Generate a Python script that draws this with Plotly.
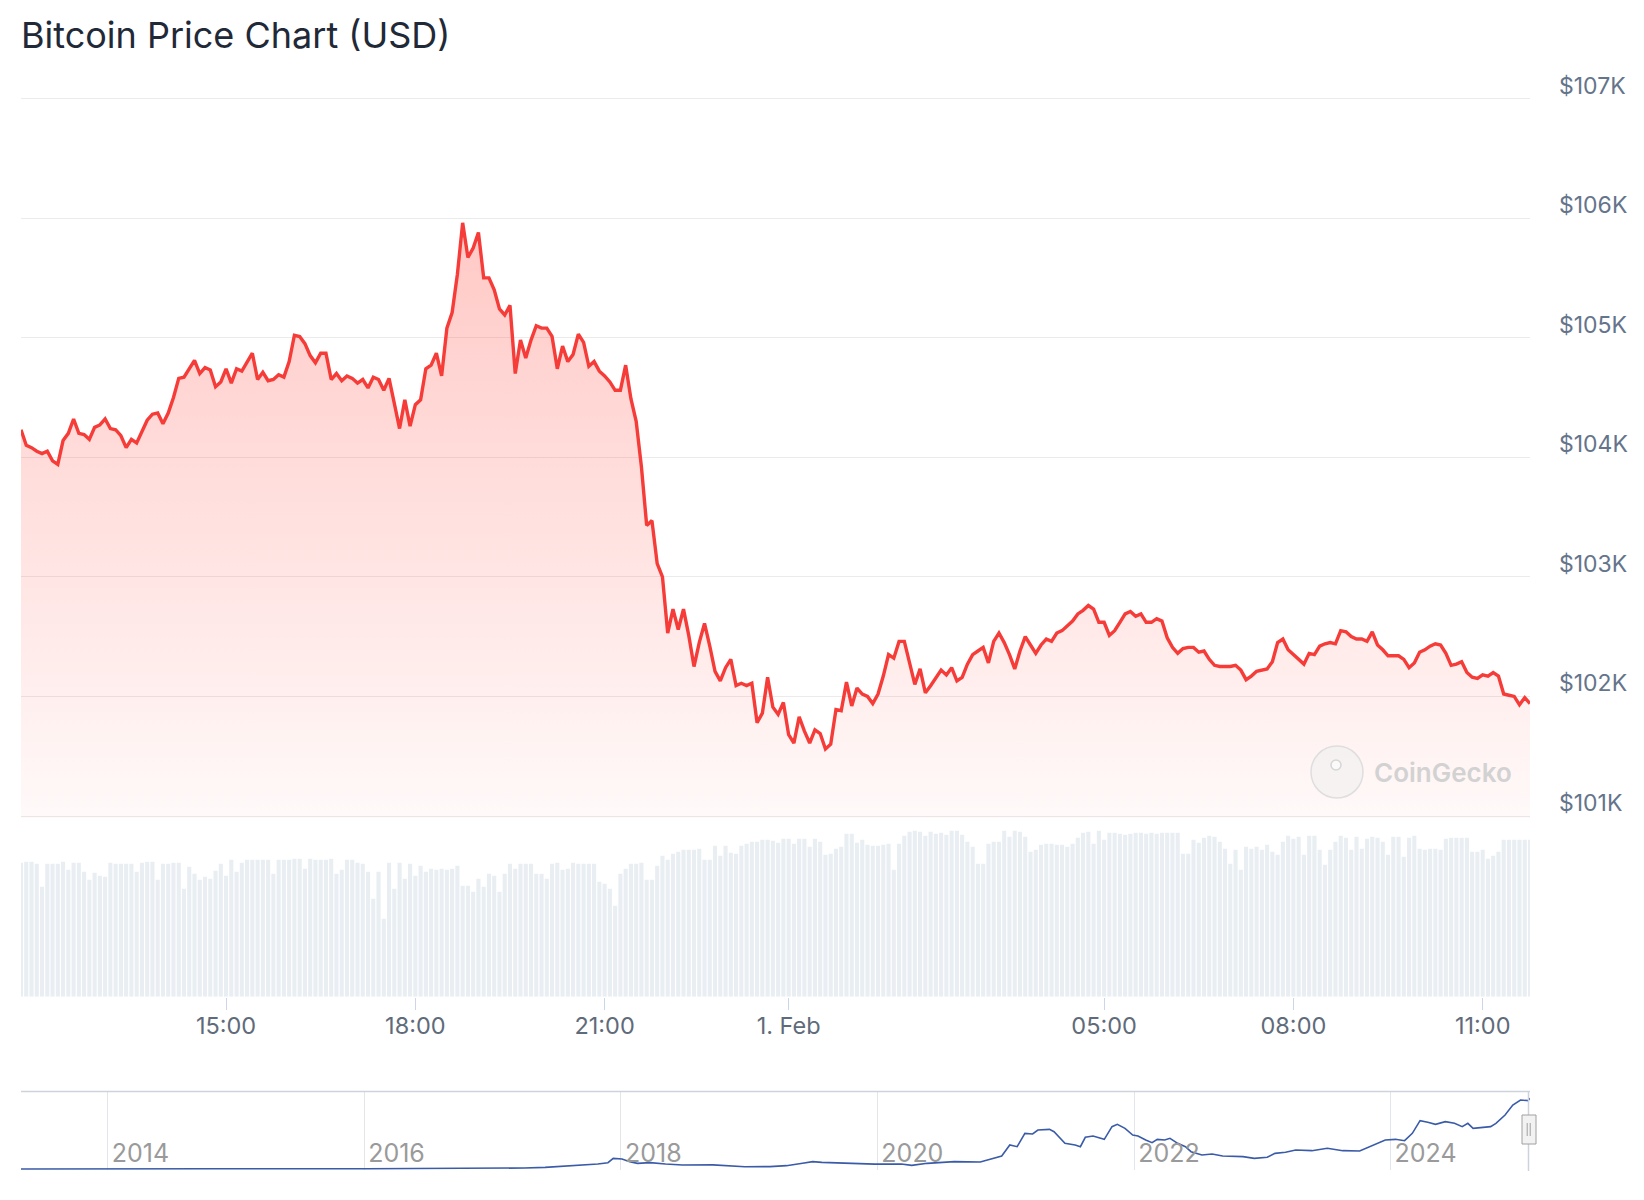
import numpy as np
import pandas as pd
import plotly.graph_objects as go

# page body has an 8px margin, so the figure is sized to fit inside it
PAGE_W, PAGE_H, BODY = 1644, 1200, 8
W, H = PAGE_W - 2 * BODY, PAGE_H - 2 * BODY
FONT = "Inter, 'Noto Sans', sans-serif"

title = "Bitcoin Price Chart (USD)"

# 24h of 5-minute points; one 5-min sample is
# missing in the evening, and the chart spaces points by index (ordinal axis)
start = "2025-01-31 11:45"
gap_after = 125

prices = [
    104230, 104100, 104080, 104050, 104030, 104050, 103970, 103940, 104140, 104200,
    104320, 104200, 104190, 104150, 104250, 104270, 104320, 104240, 104230, 104180,
    104080, 104150, 104120, 104220, 104310, 104360, 104370, 104280, 104370, 104500,
    104660, 104670, 104740, 104810, 104700, 104750, 104730, 104590, 104630, 104740,
    104620, 104740, 104720, 104800, 104870, 104650, 104710, 104640, 104650, 104690,
    104670, 104800, 105020, 105010, 104950, 104850, 104790, 104870, 104870, 104650,
    104700, 104640, 104680, 104660, 104620, 104650, 104580, 104670, 104650, 104560,
    104660, 104450, 104240, 104480,
    104260, 104440, 104480, 104740, 104770, 104870, 104680, 105080, 105210, 105530,
    105960, 105670, 105750, 105880, 105500, 105500, 105400, 105240, 105190, 105270,
    104700, 104980, 104830, 104980, 105100, 105080, 105080, 105010, 104740, 104930,
    104800, 104860, 105030, 104960, 104760, 104800, 104720, 104680, 104630, 104560,
    104560, 104770, 104490, 104300, 103920,
    103430, 103470, 103110, 103000, 102530, 102730, 102560, 102730, 102510, 102250,
    102450, 102610, 102420, 102210, 102130, 102240, 102310, 102090, 102110, 102090,
    102110, 101780, 101860, 102160, 101910, 101850, 101950, 101680, 101610, 101830,
    101710, 101610, 101720, 101690, 101560, 101600, 101890, 101880, 102120, 101920,
    102070, 102020, 102000, 101940, 102020, 102170, 102350, 102320, 102460, 102460,
    102280, 102100, 102230, 102030, 102090, 102160, 102220, 102180, 102240, 102130,
    102160, 102270, 102350, 102380, 102410, 102280, 102460, 102530,
    102450, 102350, 102230, 102380, 102500, 102430, 102360, 102430, 102480, 102460,
    102530, 102550, 102590, 102630, 102690, 102720, 102760, 102730, 102620, 102620,
    102510, 102550, 102620, 102690, 102710, 102670, 102690, 102620, 102620, 102650,
    102630, 102490, 102410, 102360, 102400, 102410, 102410, 102370, 102380, 102310,
    102260, 102250, 102250, 102250, 102260, 102220, 102140, 102170, 102210, 102220,
    102230, 102290, 102450, 102480, 102390, 102350, 102310, 102270, 102360, 102350,
    102420, 102440, 102450, 102440, 102550, 102540, 102500, 102480, 102480, 102460,
    102540, 102430, 102390, 102340, 102340, 102340, 102310, 102240, 102280, 102370,
    102390, 102420, 102440, 102430, 102360, 102260, 102270, 102290, 102200, 102160,
    102150, 102180, 102170, 102200, 102170, 102020, 102010, 102000, 101930, 101990,
    101940,
]

# volume in $M per 5 min
volumes = [
    1340, 1350, 1350, 1330, 1100, 1330, 1330, 1330, 1350, 1270,
    1340, 1340, 1250, 1170, 1240, 1210, 1200, 1340, 1330, 1330,
    1330, 1330, 1250, 1340, 1350, 1350, 1170, 1330, 1330, 1340,
    1340, 1080, 1300, 1230, 1170, 1200, 1180, 1260, 1330, 1210,
    1370, 1250, 1340, 1370, 1370, 1370, 1370, 1370, 1230, 1370,
    1370, 1370, 1380, 1380, 1280, 1380, 1370, 1370, 1370, 1380,
    1230, 1270, 1370, 1370, 1340, 1330, 1250, 980, 1250, 780,
    1340, 1080, 1340, 1180, 1330, 1210, 1310, 1250, 1280, 1270,
    1280, 1270, 1280, 1310, 1110, 1110, 1050, 1180, 1100, 1230,
    1210, 1050, 1230, 1330, 1280, 1330, 1330, 1330, 1230, 1230,
    1180, 1330, 1340, 1270, 1280, 1340, 1330, 1330, 1330, 1330,
    1150, 1130, 1080, 910, 1230, 1280, 1330, 1330, 1340, 1170,
    1170, 1310, 1410, 1370, 1430, 1450, 1470, 1470, 1470, 1480,
    1370, 1370, 1510, 1410, 1510, 1440, 1430, 1510, 1530, 1550,
    1550, 1570, 1570,
    1560, 1540, 1580, 1580, 1530, 1580, 1580, 1500, 1580, 1550,
    1420, 1430, 1480, 1500, 1630, 1630, 1540, 1570, 1520, 1510,
    1510, 1520, 1530, 1270, 1530, 1610, 1650, 1660, 1650, 1610,
    1650, 1630, 1640, 1620, 1660, 1660, 1620, 1550, 1500, 1330,
    1330, 1530, 1550, 1550, 1660, 1600, 1660, 1650, 1600, 1450,
    1470, 1520, 1530, 1530, 1520, 1520, 1500, 1530, 1590, 1640,
    1650, 1530, 1660, 1570, 1640, 1640, 1630, 1620, 1630, 1640,
    1640, 1630, 1640, 1630, 1640, 1640, 1640, 1640, 1430, 1430,
    1570, 1540, 1590, 1610, 1600, 1550, 1480, 1330, 1470, 1270,
    1500, 1480, 1500, 1470, 1520, 1450, 1420, 1550, 1610, 1580,
    1600, 1420, 1610, 1610, 1470, 1320, 1470, 1550, 1610, 1590,
    1470, 1600, 1480, 1580, 1600, 1590, 1550, 1420, 1600, 1600,
    1400, 1590, 1610, 1480, 1470, 1480, 1480, 1470, 1580, 1590,
    1590, 1590, 1590, 1450, 1450, 1470, 1380, 1410, 1450, 1570,
    1570, 1570, 1570, 1570, 1570,
]

# navigator: full price history
nav_dates = [
    "2013-04-29", "2013-10-28", "2014-10-20", "2016-01-08", "2016-11-01",
    "2017-04-01", "2017-05-30", "2017-07-31", "2017-09-12", "2017-10-27",
    "2017-11-25", "2017-12-10", "2018-01-04", "2018-01-26", "2018-02-17",
    "2018-03-25", "2018-05-08", "2018-06-25", "2018-09-20", "2018-11-17",
    "2018-12-20", "2019-03-01", "2019-04-17", "2019-06-02", "2019-07-01",
    "2019-07-27", "2019-10-12", "2019-12-24", "2020-03-09", "2020-04-08",
    "2020-05-22", "2020-08-07", "2020-10-20", "2020-12-20", "2021-01-12",
    "2021-02-02", "2021-02-24", "2021-03-18", "2021-04-02", "2021-05-05",
    "2021-05-18", "2021-06-18", "2021-07-17", "2021-08-01", "2021-08-15",
    "2021-09-06", "2021-10-08", "2021-10-30", "2021-11-14", "2021-12-06",
    "2021-12-28", "2022-01-12", "2022-02-03", "2022-02-21", "2022-03-08",
    "2022-03-29", "2022-04-13", "2022-05-05", "2022-05-27", "2022-06-12",
    "2022-07-13", "2022-08-11", "2022-09-10", "2022-11-07", "2022-12-09",
    "2023-01-15", "2023-02-06", "2023-03-08", "2023-04-06", "2023-05-22",
    "2023-07-05", "2023-08-18", "2023-10-05", "2023-11-03", "2023-11-24",
    "2023-12-17", "2024-01-15", "2024-02-10", "2024-03-03", "2024-03-25",
    "2024-04-16", "2024-05-08", "2024-06-05", "2024-07-01", "2024-07-23",
    "2024-08-08", "2024-08-23", "2024-09-21", "2024-10-12", "2024-10-27",
    "2024-11-22", "2024-12-14", "2025-01-05", "2025-01-26", "2025-02-01",
]
nav_prices = [
    100, 500, 300, 400, 900,
    1500, 2500, 4200, 6000, 7500,
    9500, 16000, 15000, 11000, 8500,
    9500, 7500, 6000, 6200, 4500,
    3400, 3600, 5000, 8500, 11000,
    10000, 8500, 7300, 7500, 5500,
    8500, 11000, 10500, 19500, 36000,
    33500, 53500, 52500, 58500, 59500,
    56000, 38500, 36000, 33500, 47500,
    49500, 44500, 63500, 67000, 61000,
    51000, 49500, 43500, 39500, 44500,
    43500, 46000, 38500, 33500, 26000,
    21000, 22500, 19500, 18500, 16000,
    17500, 23500, 25000, 28500, 27500,
    31000, 27500, 27000, 33500, 38500,
    43500, 44500, 42500, 53500, 72500,
    70000, 67000, 71000, 68500, 63500,
    68500, 61000, 62000, 63500, 68500,
    81000, 96000, 103500, 102500, 106000,
]

price_ticks = [101000, 102000, 103000, 104000, 105000, 106000, 107000]
price_labels = ["$101K", "$102K", "$103K", "$104K", "$105K", "$106K", "$107K"]

time_ticks = ["2025-01-31 15:00", "2025-01-31 18:00", "2025-01-31 21:00",
              "2025-02-01 00:00", "2025-02-01 05:00", "2025-02-01 08:00",
              "2025-02-01 11:00"]
time_labels = ["15:00", "18:00", "21:00", "1. Feb", "05:00", "08:00", "11:00"]

year_ticks = ["2014-01-01", "2016-01-01", "2018-01-01", "2020-01-01",
              "2022-01-01", "2024-01-01"]
year_labels = ["2014", "2016", "2018", "2020", "2022", "2024"]


# page pixel -> paper fraction
def px(x):
    return (x - BODY) / W


def py(y):
    return 1 - (y - BODY) / H


# sample timestamps (with the missing sample) and ordinal positions
n = len(prices)
first = pd.date_range(start, periods=gap_after + 1, freq="5min")
second = pd.date_range(first[-1] + pd.Timedelta("10min"), periods=n - gap_after - 1, freq="5min")
times = first.append(second)
idx = np.arange(n)
tick_pos = np.interp(pd.to_datetime(time_ticks).asi8, times.asi8, idx)

xdom = [px(21), px(1530)]

# price panel: 107K at y=98.5, 101K at y=816, padded 2px so edge gridlines draw
k_px = (816 - 98.5) / 6000
pad = 2
price_range = [101000 - pad / k_px, 107000 + pad / k_px]

fig = go.Figure()

fig.add_trace(go.Bar(
    x=idx, y=volumes, xaxis="x", yaxis="y",
    customdata=times, hoverinfo="skip",
    marker=dict(color="#e9eef3", line_width=0),
))

fig.add_trace(go.Scatter(
    x=idx, y=prices, xaxis="x2", yaxis="y2", mode="lines",
    customdata=times,
    hovertemplate="%{customdata|%d %b %H:%M}<br>$%{y:,.0f}<extra></extra>",
    line=dict(color="#f63c38", width=3.4),
    fill="tozeroy",
    fillgradient=dict(
        type="vertical",
        colorscale=[[0, "rgba(255,59,48,0.03)"], [1, "rgba(255,59,48,0.28)"]],
        start=101000, stop=106000,
    ),
))

fig.add_trace(go.Scatter(
    x=nav_dates, y=nav_prices, xaxis="x3", yaxis="y3", mode="lines",
    line=dict(color="#3a5ba8", width=1.6),
))

fig.update_layout(
    width=W, height=H,
    margin=dict(l=0, r=0, t=0, b=0, pad=0, autoexpand=False),
    paper_bgcolor="white", plot_bgcolor="rgba(0,0,0,0)",
    showlegend=False,
    bargap=0.22,
    xaxis=dict(
        domain=xdom, anchor="y", automargin=False,
        range=[0, n - 1],
        tickvals=tick_pos, ticktext=time_labels,
        ticks="outside", ticklen=12, tickcolor="#ccd6eb", tickwidth=1,
        ticklabelstandoff=-4,
        showgrid=False, zeroline=False, showline=False,
        tickfont=dict(family=FONT, size=23.5, color="#5f6b7a"),
    ),
    xaxis2=dict(
        domain=xdom, anchor="y2", matches="x", automargin=False,
        showticklabels=False, showgrid=False, ticks="", zeroline=False,
    ),
    yaxis=dict(
        domain=[py(996.7), py(816)], range=[0, 1807],
        visible=False, automargin=False,
    ),
    yaxis2=dict(
        domain=[py(816 + pad), py(98.5 - pad)], range=price_range,
        anchor="x2", side="right", automargin=False,
        tickvals=price_ticks, ticktext=price_labels,
        showgrid=True, gridcolor="#ebebeb", gridwidth=1,
        zeroline=False, showline=False, ticks="",
        ticklabelstandoff=28, ticklabelshift=-13,
        tickfont=dict(family=FONT, size=23, color="#64748b"),
    ),
    xaxis3=dict(
        domain=xdom, anchor="y3", type="date", automargin=False,
        range=["2013-04-29", "2025-02-01"],
        tickvals=year_ticks, ticktext=year_labels,
        ticklabelposition="inside right", ticks="",
        ticklabelshift=4, ticklabelstandoff=-3,
        showgrid=True, gridcolor="#e2e5ea", gridwidth=1,
        zeroline=False, showline=False,
        tickfont=dict(family=FONT, size=25, color="#9a9a9a"),
    ),
    yaxis3=dict(
        domain=[py(1170), py(1092)], range=[-1500, 115500],
        visible=False, automargin=False,
    ),
)

# title as a plain text block in the top-left corner
fig.add_annotation(
    text=title, xref="paper", yref="paper",
    x=px(19), y=py(35), xanchor="left", yanchor="middle", showarrow=False,
    font=dict(family=FONT, size=36, color="#1f2937"),
)

# navigator frame and right-hand handle
outline = "#cdd3dc"
fig.add_shape(type="line", xref="paper", yref="paper",
              x0=px(21), x1=px(1530), y0=py(1091.5), y1=py(1091.5),
              line=dict(color=outline, width=1.5))
fig.add_shape(type="line", xref="paper", yref="paper",
              x0=px(1528.5), x1=px(1528.5), y0=py(1091.5), y1=py(1171),
              line=dict(color=outline, width=1.5))
fig.add_shape(type="rect", xref="paper", yref="paper",
              x0=px(1522), x1=px(1536), y0=py(1144), y1=py(1115),
              fillcolor="#f2f2f2", line=dict(color="#a0a0a0", width=1))
for gx in (1527.2, 1530.2):
    fig.add_shape(type="line", xref="paper", yref="paper",
                  x0=px(gx), x1=px(gx), y0=py(1136), y1=py(1123),
                  line=dict(color="#a0a0a0", width=1))

# CoinGecko watermark
fig.add_shape(type="circle", xref="paper", yref="paper",
              x0=px(1311), x1=px(1363), y0=py(798), y1=py(746),
              fillcolor="rgba(238,238,238,0.55)", line=dict(color="#dedede", width=1.5))
fig.add_shape(type="circle", xref="paper", yref="paper",
              x0=px(1331), x1=px(1341), y0=py(770), y1=py(760),
              fillcolor="rgba(255,255,255,0.6)", line=dict(color="#d6d6d6", width=1.5))
fig.add_annotation(
    text="CoinGecko", xref="paper", yref="paper",
    x=px(1372), y=py(772), xanchor="left", yanchor="middle", showarrow=False,
    font=dict(family=FONT, size=26, color="#d2d2d2", weight=600),
)

fig.write_html("out.html")
